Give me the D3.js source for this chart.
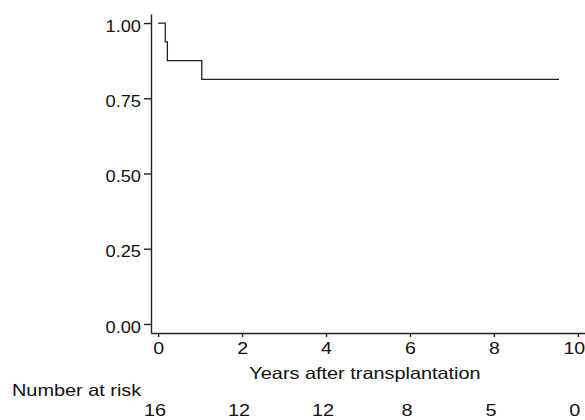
<!DOCTYPE html>
<html>
<head>
<meta charset="utf-8">
<script src="https://cdn.jsdelivr.net/npm/d3@7"></script>
<style>
  body { margin: 0; background: #fff; }
  svg { font-family: "Liberation Sans", Arial, sans-serif; }
  .axis text { font-size: 16.3px; fill: #111; transform-box: fill-box; }
  .axis.x text { transform-origin: center; transform: scaleX(1.2); }
  .axis.y text { transform-origin: right center; transform: scaleX(1.12); }
  .axis path, .axis line { stroke: #222; stroke-width: 1.4; }
  .curve { fill: none; stroke: #222; stroke-width: 1.3; }
  .lbl { font-size: 16.3px; fill: #111; transform-box: fill-box; transform: scaleX(1.22); }
  .mid { transform-origin: center; }
  .left { transform-origin: left center; }
</style>
</head>
<body>
<svg width="585" height="420"></svg>
<script>
// Kaplan-Meier steps
const times = [0, 0.17, 0.22, 1.04, 9.55];
const survival = [1, 0.9375, 0.875, 0.8125, 0.8125];

const xTicks = [0, 2, 4, 6, 8, 10];
const yTicks = [0, 0.25, 0.5, 0.75, 1];
const atRisk = [16, 12, 12, 8, 5, 0];

const svg = d3.select("svg");

const x = d3.scaleLinear().domain([-0.17, 10.17]).range([151, 585]);
const y = d3.scaleLinear().domain([-0.03, 1.03]).range([333, 14]);

const xAxis = svg.append("g")
  .attr("class", "axis x")
  .attr("transform", "translate(0,333)")
  .call(d3.axisBottom(x).tickValues(xTicks).tickSizeInner(4).tickSizeOuter(0).tickPadding(5).tickFormat(d3.format("d")));

// the last label sits against the right edge
xAxis.selectAll(".tick text").filter(d => d === 10).attr("dx", -4);

svg.append("g")
  .attr("class", "axis y")
  .attr("transform", "translate(151,0)")
  .call(d3.axisLeft(y).tickValues(yTicks).tickSizeInner(7).tickSizeOuter(0).tickPadding(3).tickFormat(d3.format(".2f")))
  .selectAll("text").attr("dy", "0.5em");

const pts = times.map((t, i) => [t, survival[i]]);

svg.append("path")
  .attr("class", "curve")
  .attr("d", d3.line().x(d => x(d[0])).y(d => y(d[1])).curve(d3.curveStepAfter)(pts));

svg.append("text")
  .attr("class", "lbl mid")
  .attr("x", 365)
  .attr("y", 379)
  .attr("text-anchor", "middle")
  .text("Years after transplantation");

svg.append("text")
  .attr("class", "lbl left")
  .attr("x", 12)
  .attr("y", 396)
  .text("Number at risk");

svg.selectAll("text.risk")
  .data(atRisk)
  .enter()
  .append("text")
  .attr("class", "lbl mid risk")
  .attr("x", (d, i) => x(xTicks[i]) - 3)
  .attr("y", 416)
  .attr("text-anchor", "middle")
  .text(d => d);
</script>
</body>
</html>
